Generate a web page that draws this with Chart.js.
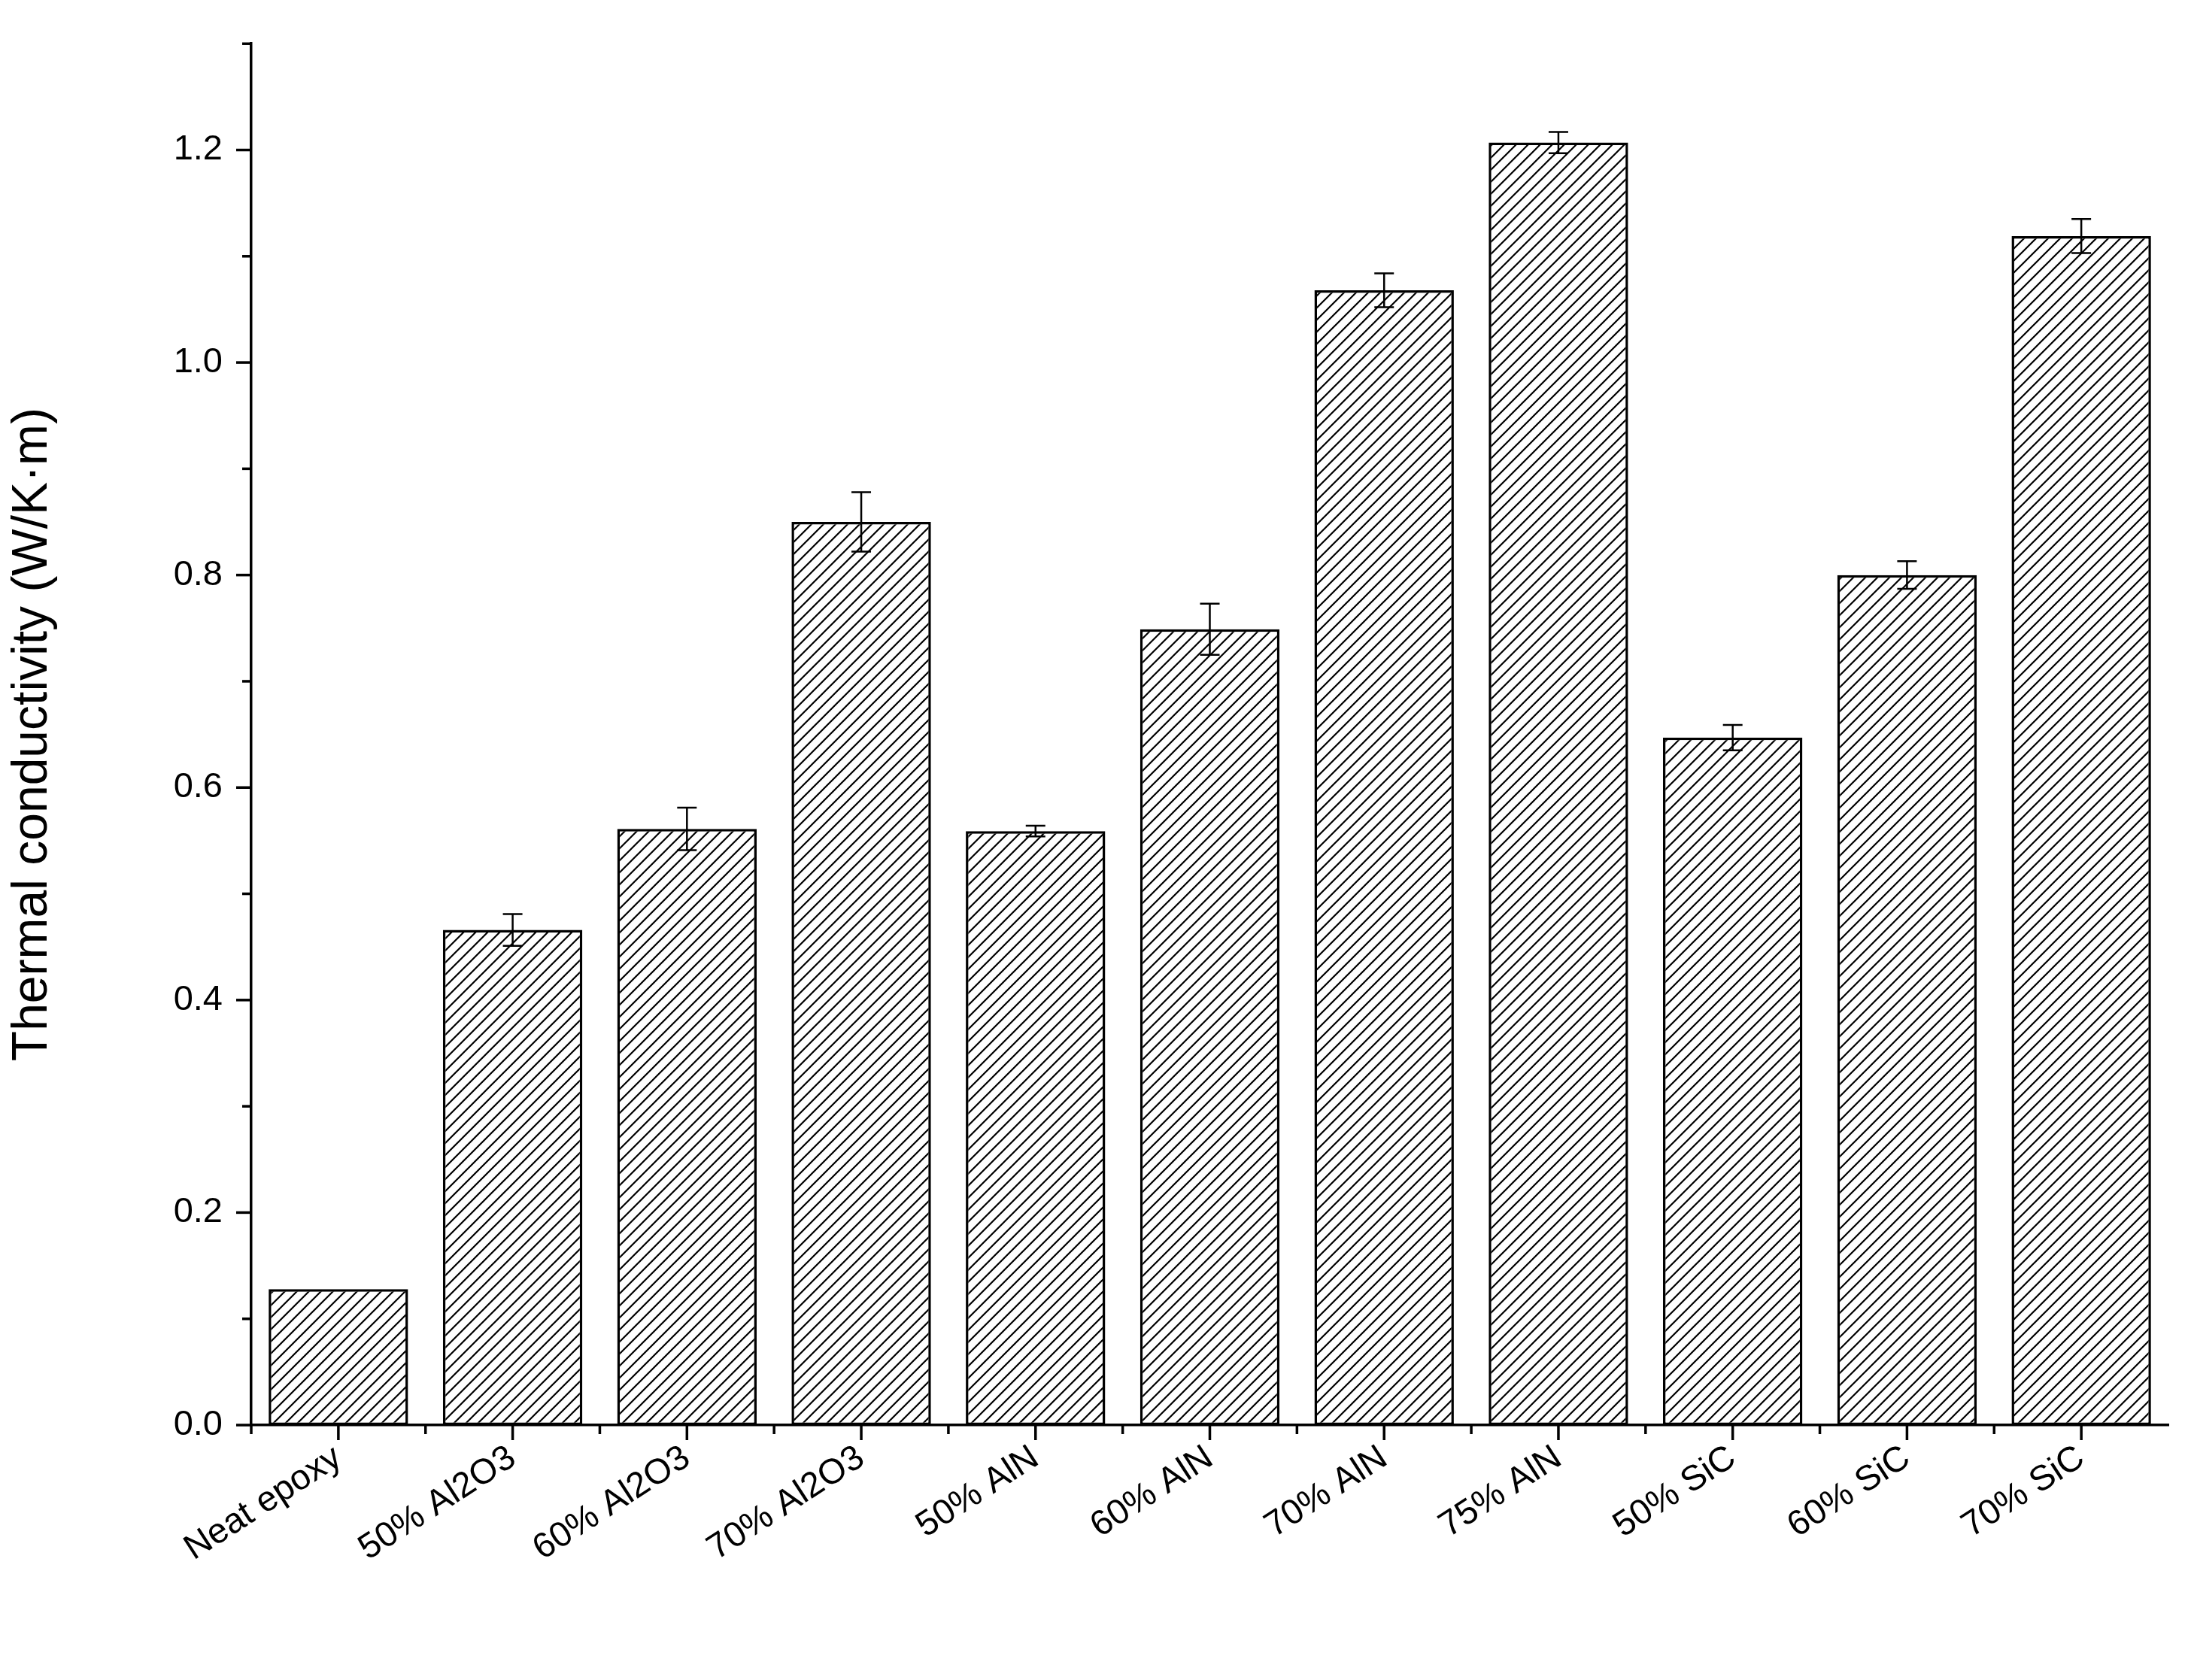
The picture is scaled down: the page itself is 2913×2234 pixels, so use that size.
<!DOCTYPE html>
<html>
<head>
<meta charset="utf-8">
<script src="https://cdn.jsdelivr.net/npm/chart.js@4.4.1/dist/chart.umd.min.js"></script>
<style>
  html, body { margin: 0; padding: 0; background: #fff; }
  #wrap { width: 2913px; height: 2234px; }
</style>
</head>
<body>
<div id="wrap"><canvas id="tcChart" width="2913" height="2234"></canvas></div>
<script>
const categories = ['Neat epoxy', '50% Al2O3', '60% Al2O3', '70% Al2O3', '50% AlN', '60% AlN',
                    '70% AlN', '75% AlN', '50% SiC', '60% SiC', '70% SiC'];
const conductivity = [0.128, 0.466, 0.561, 0.850, 0.559, 0.749, 1.068, 1.207, 0.647, 0.800, 1.119];
const errors = [0, 0.015, 0.020, 0.028, 0.005, 0.024, 0.016, 0.010, 0.012, 0.013, 0.016];
const yTicks = [0.0, 0.2, 0.4, 0.6, 0.8, 1.0, 1.2];

// hatch pattern "////"
function makeHatch() {
    const s = 16;
    const c = document.createElement('canvas');
    c.width = s; c.height = s;
    const g = c.getContext('2d');
    g.fillStyle = '#fff';
    g.fillRect(0, 0, s, s);
    g.strokeStyle = '#000';
    g.lineWidth = 2.2;
    g.beginPath();
    g.moveTo(-2, s + 2); g.lineTo(s + 2, -2);
    g.moveTo(-2, 2); g.lineTo(2, -2);
    g.moveTo(s - 2, s + 2); g.lineTo(s + 2, s - 2);
    g.stroke();
    return g.createPattern(c, 'repeat');
}

// error bars + tick marks
const extrasPlugin = {
    id: 'extras',
    afterDatasetsDraw(chart) {
        const ctx = chart.ctx;
        const x = chart.scales.x, y = chart.scales.y;
        ctx.save();
        ctx.strokeStyle = '#000';
        ctx.lineWidth = 2.5;
        conductivity.forEach((v, i) => {
            if (!errors[i]) return;
            const cx = x.getPixelForValue(i);
            const top = y.getPixelForValue(v + errors[i]);
            const bot = y.getPixelForValue(v - errors[i]);
            ctx.beginPath();
            ctx.moveTo(cx, top); ctx.lineTo(cx, bot);
            ctx.moveTo(cx - 13, top); ctx.lineTo(cx + 13, top);
            ctx.moveTo(cx - 13, bot); ctx.lineTo(cx + 13, bot);
            ctx.stroke();
        });
        // y ticks
        ctx.lineWidth = 3.5;
        const left = chart.chartArea.left, bottom = chart.chartArea.bottom;
        for (let k = 0; k <= 13; k++) {
            const py = y.getPixelForValue(k * 0.1);
            const len = k % 2 === 0 ? 20 : 12;
            ctx.beginPath(); ctx.moveTo(left, py); ctx.lineTo(left - len, py); ctx.stroke();
        }
        // x ticks
        for (let i = 0; i < categories.length; i++) {
            const px = x.getPixelForValue(i);
            ctx.beginPath(); ctx.moveTo(px, bottom); ctx.lineTo(px, bottom + 20); ctx.stroke();
            const bx = px - (x.getPixelForValue(1) - x.getPixelForValue(0)) / 2;
            ctx.beginPath(); ctx.moveTo(bx, bottom); ctx.lineTo(bx, bottom + 12); ctx.stroke();
        }
        ctx.restore();
    }
};

new Chart(document.getElementById('tcChart'), {
    type: 'bar',
    data: {
        labels: categories,
        datasets: [{
            data: conductivity,
            backgroundColor: makeHatch(),
            borderColor: '#000',
            borderWidth: 3.5,
            borderSkipped: false,
            categoryPercentage: 1.0,
            barPercentage: 0.8
        }]
    },
    plugins: [extrasPlugin],
    options: {
        responsive: false,
        animation: false,
        devicePixelRatio: 1,
        layout: { padding: { top: 22, right: 30, left: 0, bottom: 0 } },
        plugins: { legend: { display: false }, tooltip: { enabled: false } },
        scales: {
            x: {
                grid: { display: false },
                border: { color: '#000', width: 3.5 },
                ticks: {
                    color: '#000',
                    font: { family: 'Liberation Sans, Arial', size: 47 },
                    minRotation: 33, maxRotation: 33, padding: 8
                },
                afterFit(s) { s.height = 339; }
            },
            y: {
                min: 0, max: 1.3,
                afterBuildTicks(s) { s.ticks = yTicks.map(v => ({ value: v })); },
                grid: { display: false },
                border: { color: '#000', width: 3.5 },
                ticks: {
                    color: '#000',
                    font: { family: 'Liberation Sans, Arial', size: 47 },
                    padding: 30,
                    callback: v => v.toFixed(1)
                },
                title: {
                    display: true,
                    text: 'Thermal conductivity (W/K\u00b7m)',
                    color: '#000',
                    font: { family: 'Liberation Sans, Arial', size: 66 },
                    padding: { bottom: 20 }
                },
                afterFit(s) { s.width = 334; }
            }
        }
    }
});
</script>
</body>
</html>
